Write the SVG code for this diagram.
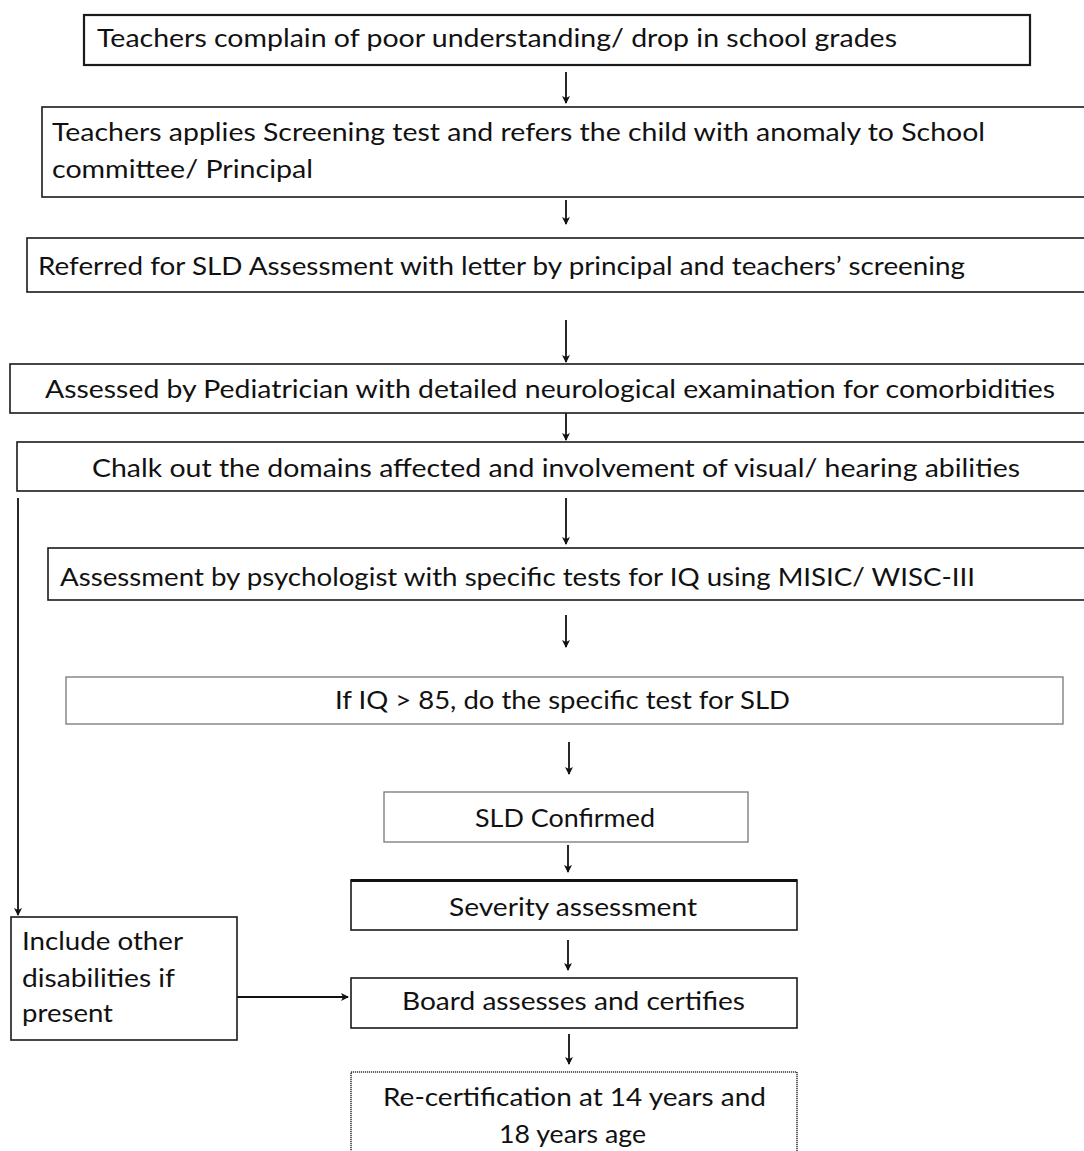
<svg xmlns="http://www.w3.org/2000/svg" width="1084" height="1151" viewBox="0 0 1084 1151">
<style>
.box{fill:#fff;stroke:#1a1a1a;stroke-width:1.6}
.thick{stroke-width:2.2}
.gray{stroke:#777;stroke-width:1.3}
.dot{stroke:#333;stroke-width:1.5;stroke-dasharray:1.2 0.8}
text{font-family:Lato,"Open Sans","Liberation Sans",sans-serif;font-size:25px;fill:#111}
.con{stroke:#111;stroke-width:1.8;fill:none}
</style>
<defs>
<marker id="ah" markerWidth="10" markerHeight="10" refX="7" refY="5" orient="auto" markerUnits="userSpaceOnUse">
<path d="M0,1 L8,5 L0,9 L2,5 Z" fill="#111"/>
</marker>
</defs>
<rect width="1084" height="1151" fill="#fff"/>
<g id="connectors">
<line class="con" x1="566" y1="72" x2="566" y2="103" marker-end="url(#ah)"/>
<line class="con" x1="566" y1="200" x2="566" y2="224" marker-end="url(#ah)"/>
<line class="con" x1="566" y1="320" x2="566" y2="362" marker-end="url(#ah)"/>
<line class="con" x1="566" y1="413" x2="566" y2="440" marker-end="url(#ah)"/>
<line class="con" x1="566" y1="498" x2="566" y2="544" marker-end="url(#ah)"/>
<line class="con" x1="566" y1="615" x2="566" y2="647" marker-end="url(#ah)"/>
<line class="con" x1="569" y1="742" x2="569" y2="774" marker-end="url(#ah)"/>
<line class="con" x1="568" y1="845" x2="568" y2="872" marker-end="url(#ah)"/>
<line class="con" x1="568" y1="940" x2="568" y2="970" marker-end="url(#ah)"/>
<line class="con" x1="569" y1="1034" x2="569" y2="1064" marker-end="url(#ah)"/>
<line class="con" x1="18" y1="498" x2="18" y2="915" marker-end="url(#ah)"/>
<line class="con" x1="237" y1="997" x2="348" y2="997" stroke-width="2.6" marker-end="url(#ah)"/>
</g>
<g id="n1"><rect class="box thick" x="84" y="15" width="946" height="50"/>
<text x="97" y="47" textLength="800" lengthAdjust="spacingAndGlyphs">Teachers complain of poor understanding/ drop in school grades</text></g>
<g id="n2"><rect class="box" x="42" y="107" width="1050" height="90"/>
<text x="52" y="141" textLength="933" lengthAdjust="spacingAndGlyphs">Teachers applies Screening test and refers the child with anomaly to School</text>
<text x="52" y="178" textLength="261" lengthAdjust="spacingAndGlyphs">committee/ Principal</text></g>
<g id="n3"><rect class="box" x="27" y="238" width="1065" height="54"/>
<text x="38" y="275" textLength="927" lengthAdjust="spacingAndGlyphs">Referred for SLD Assessment with letter by principal and teachers’ screening</text></g>
<g id="n4"><rect class="box" x="10" y="364" width="1082" height="49"/>
<text x="45" y="398" textLength="1010" lengthAdjust="spacingAndGlyphs">Assessed by Pediatrician with detailed neurological examination for comorbidities</text></g>
<g id="n5"><rect class="box" x="17" y="442" width="1075" height="49"/>
<text x="92" y="477" textLength="928" lengthAdjust="spacingAndGlyphs">Chalk out the domains affected and involvement of visual/ hearing abilities</text></g>
<g id="n6"><rect class="box" x="48" y="548" width="1044" height="52"/>
<text x="60" y="586" textLength="915" lengthAdjust="spacingAndGlyphs">Assessment by psychologist with specific tests for IQ using MISIC/ WISC-III</text></g>
<g id="n7"><rect class="box gray" x="66" y="677" width="997" height="47"/>
<text x="335" y="709" textLength="455" lengthAdjust="spacingAndGlyphs">If IQ &gt; 85, do the specific test for SLD</text></g>
<g id="n8"><rect class="box gray" x="384" y="792" width="364" height="50"/>
<text x="475" y="827" textLength="180" lengthAdjust="spacingAndGlyphs">SLD Confirmed</text></g>
<g id="n9"><rect class="box" x="351" y="880" width="446" height="50"/>
<line x1="351" y1="880.5" x2="797" y2="880.5" stroke="#111" stroke-width="3"/>
<text x="449" y="916" textLength="248" lengthAdjust="spacingAndGlyphs">Severity assessment</text></g>
<g id="n10"><rect class="box" x="351" y="978" width="446" height="50"/>
<text x="402" y="1010" textLength="343" lengthAdjust="spacingAndGlyphs">Board assesses and certifies</text></g>
<g id="n11"><rect class="box dot" x="351" y="1072" width="446" height="90"/>
<text x="383" y="1106" textLength="383" lengthAdjust="spacingAndGlyphs">Re-certification at 14 years and</text>
<text x="499" y="1143" textLength="147" lengthAdjust="spacingAndGlyphs">18 years age</text></g>
<g id="n12"><rect class="box" x="11" y="917" width="226" height="123"/>
<text x="22" y="950" textLength="161" lengthAdjust="spacingAndGlyphs">Include other</text>
<text x="22" y="987" textLength="153" lengthAdjust="spacingAndGlyphs">disabilities if</text>
<text x="22" y="1022" textLength="91" lengthAdjust="spacingAndGlyphs">present</text></g>
</svg>
